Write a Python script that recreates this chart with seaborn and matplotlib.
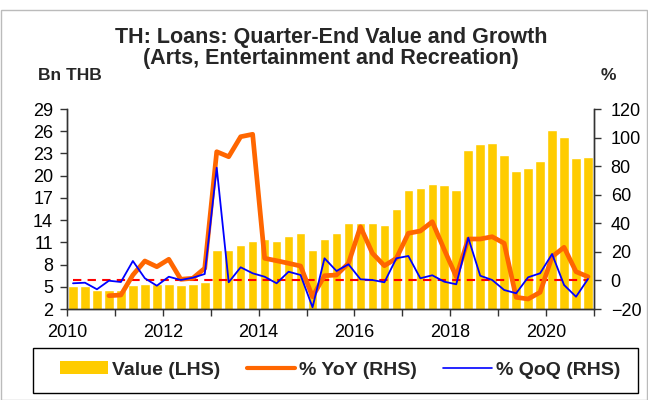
import numpy as np
import pandas as pd
import matplotlib
matplotlib.use("Agg")
import matplotlib.pyplot as plt
import seaborn as sns
from matplotlib.patches import Patch, Rectangle
from matplotlib.lines import Line2D

# quarterly data, 2010Q1 - 2020Q4
years = list(range(2010, 2021))
value = [5.15, 5.15, 4.6, 4.6, 4.6, 5.3, 5.4, 5.4, 5.35, 5.3, 5.4, 5.7,
         10.0, 9.9, 10.7, 11.2, 11.5, 11.2, 11.85, 12.2, 10.0, 11.5, 12.2, 13.6,
         13.65, 13.65, 13.4, 15.5, 18.05, 18.3, 18.9, 18.7, 18.1, 23.5, 24.3, 24.4,
         22.75, 20.6, 21.0, 22.0, 26.1, 25.2, 22.4, 22.55]
# YoY growth starts at 2010Q4
yoy = [-10.7, -10.2, 3.8, 13.6, 9.6, 14.8, 0.8, 1.5, 8.5, 90.1, 86.6, 100.6, 102.3,
       15.5, 13.8, 12.0, 10.1, -11.4, 3.3, 3.8, 12.0, 37.6, 19.0, 10.3, 15.5,
       33.0, 34.6, 41.1, 21.5, 2.6, 29.0, 29.0, 30.6, 26.0, -11.8, -13.0, -8.3,
       16.6, 23.2, 6.1, 2.6]
qoq = [-2.0, -1.6, -6.2, -0.2, -1.1, 13.6, 1.5, -3.7, 2.6, 0.3, 1.9, 4.5,
       78.9, -1.3, 9.2, 5.0, 2.6, -2.0, 6.1, 3.8, -18.8, 15.5, 6.6, 11.3,
       0.8, 0.3, -1.3, 15.5, 17.1, 1.5, 3.6, -0.9, -2.7, 29.9, 3.3, 0.3,
       -6.7, -9.0, 2.2, 5.0, 18.5, -3.2, -11.4, 1.0]

# position of each quarter (mid-quarter) on a year scale
pos = [y + (q - 0.5) / 4 for y in years for q in range(1, 5)]
df = pd.DataFrame({"pos": pos, "value": value, "qoq": qoq})
df["yoy"] = [np.nan] * (len(pos) - len(yoy)) + yoy

sns.set_style("white")
plt.rcParams["font.family"] = ["Liberation Sans", "DejaVu Sans"]

fig = plt.figure(figsize=(6.48, 4.0), dpi=100)
ax = fig.add_axes([67 / 648, 1 - 309 / 400, (594 - 67) / 648, 200 / 400])

sns.barplot(data=df, x="pos", y="value", native_scale=True, width=0.8,
            color="#FFCC00", saturation=1, ax=ax)
ax.set_xlim(2010, 2021)
ax.set_ylim(2, 29)
ax.set_yticks(range(2, 30, 3))
ax.set_xticks(range(2010, 2022))
ax.set_xticklabels([str(y) if y % 2 == 0 and y < 2021 else "" for y in range(2010, 2022)])
ax.set_xlabel("")
ax.set_ylabel("")

ax2 = ax.twinx()
ax2.hlines(0, df["pos"].iloc[0], df["pos"].iloc[-1], colors="#FF0000",
           linestyles=(0, (4, 3)), linewidth=1.5)
sns.lineplot(data=df, x="pos", y="yoy", color="#FF6600", linewidth=3.4,
             solid_capstyle="round", ax=ax2)
sns.lineplot(data=df, x="pos", y="qoq", color="#0000FF", linewidth=1.3, ax=ax2)
ax2.set_ylim(-20, 120)
ax2.set_yticks(range(-20, 121, 20))
ax2.set_xlim(2010, 2021)
ax2.set_xlabel("")
ax2.set_ylabel("")

for a in (ax, ax2):
    a.spines["top"].set_visible(False)
    for s in ("left", "right", "bottom"):
        a.spines[s].set_color("#333333")
        a.spines[s].set_linewidth(1)
    a.tick_params(direction="out", length=5, width=1, color="#333333",
                  labelsize=13, labelcolor="black", pad=5)
ax.tick_params(axis="y", left=True, right=False)
ax.tick_params(axis="x", bottom=True, pad=6)
ax2.tick_params(axis="y", right=True, left=False, pad=7)

fig.text(331 / 648, 1 - 48 / 400,
         "TH: Loans: Quarter-End Value and Growth\n(Arts, Entertainment and Recreation)",
         ha="center", va="center", fontsize=15.5, fontweight="bold", linespacing=1.06)
fig.text(70 / 648, 1 - 75 / 400, "Bn THB", ha="center", va="center",
         fontsize=12.5, fontweight="bold")
fig.text(608 / 648, 1 - 75 / 400, "%", ha="center", va="center",
         fontsize=12.5, fontweight="bold")

# legend box drawn separately, legend entries centred inside it
fig.patches.append(Rectangle((33 / 648, 1 - 393 / 400), (638 - 33) / 648, 45 / 400,
                             transform=fig.transFigure, fill=False,
                             edgecolor="black", linewidth=1))
handles = [Patch(facecolor="#FFCC00", edgecolor="none"),
           Line2D([], [], color="#FF6600", linewidth=3),
           Line2D([], [], color="#0000FF", linewidth=1.2)]
labels = ["Value (LHS)", "% YoY (RHS)", "% QoQ (RHS)"]
fig.legend(handles, labels, loc="center", ncol=3,
           bbox_to_anchor=(340 / 648, 1 - 370 / 400),
           frameon=False, borderaxespad=0, borderpad=0,
           prop={"weight": "bold", "size": 14}, handlelength=2.5,
           handleheight=0.6, handletextpad=0.2, columnspacing=1.35)

# thin frame around the picture
fig.patches.append(Rectangle((0.002, 0.0), 0.996, 0.975, transform=fig.transFigure,
                             fill=False, edgecolor="#bbbbbb", linewidth=1))

fig.savefig("out.png", dpi=100)
